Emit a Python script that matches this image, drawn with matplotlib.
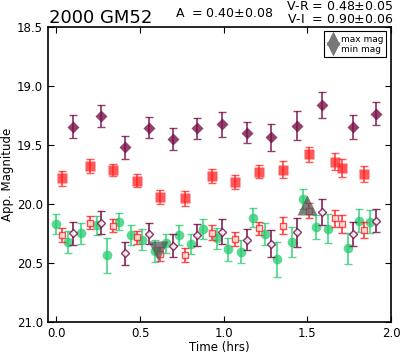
import matplotlib
matplotlib.use('Agg')
import matplotlib.pyplot as plt
from matplotlib.lines import Line2D

# I band (filled diamonds) and the same points shifted to V (open diamonds)
t_i = [0.098, 0.268, 0.413, 0.551, 0.696, 0.843, 0.992, 1.138, 1.281, 1.439, 1.589, 1.772, 1.908]
mag_i = [19.345, 19.254, 19.519, 19.353, 19.449, 19.358, 19.325, 19.398, 19.435, 19.339, 19.161, 19.350, 19.235]
err_i = [0.099, 0.095, 0.097, 0.089, 0.097, 0.090, 0.105, 0.089, 0.113, 0.123, 0.110, 0.103, 0.097]
mag_i_v = [20.248, 20.158, 20.418, 20.254, 20.353, 20.263, 20.235, 20.305, 20.336, 20.240, 20.065, 20.254, 20.142]

# R band (filled squares) and shifted to V (open squares)
t_r = [0.032, 0.204, 0.341, 0.479, 0.621, 0.766, 0.928, 1.066, 1.210, 1.357, 1.511, 1.665, 1.705, 1.838]
mag_r = [19.782, 19.678, 19.712, 19.803, 19.941, 19.952, 19.763, 19.814, 19.726, 19.709, 19.579, 19.642, 19.697, 19.744]
err_r = [0.062, 0.058, 0.055, 0.055, 0.061, 0.061, 0.061, 0.059, 0.054, 0.072, 0.065, 0.070, 0.076, 0.066]
mag_r_v = [20.263, 20.158, 20.186, 20.282, 20.424, 20.432, 20.242, 20.297, 20.206, 20.186, 20.057, 20.121, 20.172, 20.220]

# V band (green circles)
t_v = [0.0, 0.072, 0.146, 0.242, 0.305, 0.377, 0.447, 0.512, 0.588, 0.653, 0.732, 0.807, 0.874,
       0.960, 1.027, 1.103, 1.174, 1.249, 1.320, 1.407, 1.474, 1.550, 1.625, 1.741, 1.807, 1.872]
mag_v = [20.172, 20.319, 20.248, 20.182, 20.436, 20.150, 20.265, 20.301, 20.398, 20.333, 20.265, 20.339, 20.214,
         20.291, 20.384, 20.404, 20.116, 20.256, 20.470, 20.322, 19.959, 20.195, 20.208, 20.377, 20.140, 20.150]
err_v = [0.085, 0.093, 0.089, 0.080, 0.151, 0.073, 0.085, 0.085, 0.090, 0.080, 0.085, 0.085, 0.085,
         0.088, 0.099, 0.100, 0.078, 0.092, 0.151, 0.131, 0.082, 0.099, 0.123, 0.131, 0.095, 0.096]

# lightcurve extremes
t_max, mag_max = [1.495], [20.01]
t_min, mag_min = [0.605], [20.40]

xticks = [0.0, 0.5, 1.0, 1.5, 2.0]
yticks = [18.5, 19.0, 19.5, 20.0, 20.5, 21.0]

fig = plt.figure(figsize=(4, 3.55), dpi=100)
fig.patch.set_facecolor('white')
ax = fig.add_axes([0.12, 0.093, 0.8575, 0.831])

purple = '#7a1048'
red = '#ff2020'
green = '#22cc6e'

ax.errorbar(t_v, mag_v, yerr=err_v, fmt='o', ms=7, color=green, mec='none', alpha=0.75,
            ecolor=green, elinewidth=1.3, capsize=3, zorder=2)
ax.errorbar(t_r, mag_r_v, yerr=err_r, fmt='s', ms=4.5, mfc='#ffe8e8', mec=red, mew=1.0, alpha=0.8,
            ecolor=red, elinewidth=1.3, capsize=3, zorder=3)
ax.errorbar(t_i, mag_i_v, yerr=err_i, fmt='D', ms=4, mfc='white', mec=purple, mew=1.0, alpha=0.85,
            ecolor=purple, elinewidth=1.3, capsize=3, zorder=3)
ax.errorbar(t_r, mag_r, yerr=err_r, fmt='s', ms=6.5, color=red, mec='none', alpha=0.75,
            ecolor=red, elinewidth=1.3, capsize=3, zorder=3)
ax.errorbar(t_i, mag_i, yerr=err_i, fmt='D', ms=6, color=purple, mec='none', alpha=0.8,
            ecolor=purple, elinewidth=1.3, capsize=3, zorder=3)

ax.plot(t_max, mag_max, '^', ms=14, color='#555555', alpha=0.75, mec='none', zorder=5)
ax.plot(t_min, mag_min, 'v', ms=14, color='#555555', alpha=0.75, mec='none', zorder=5)

ax.set_xlim(-0.05, 2.0)
ax.set_ylim(21.0, 18.5)
ax.set_xticks(xticks)
ax.set_yticks(yticks)
ax.set_xticklabels([f'{v:.1f}' for v in xticks])
ax.set_yticklabels([f'{v:.1f}' for v in yticks])
ax.tick_params(direction='in', top=True, right=True, length=4, width=0.8, labelsize=8.5)
for s in ax.spines.values():
    s.set_linewidth(1.2)

ax.set_xlabel('Time (hrs)', fontsize=8.5, labelpad=1)
ax.set_ylabel('App. Magnitude', fontsize=8.5, labelpad=2)

handles = [Line2D([0], [0], marker='^', ls='none', ms=10, color='#777777', mec='none'),
           Line2D([0], [0], marker='v', ls='none', ms=10, color='#777777', mec='none')]
leg = ax.legend(handles, ['max mag', 'min mag'], loc='upper right', fontsize=6.5, numpoints=1,
                handlelength=1.2, handletextpad=0.3, labelspacing=0.15, borderpad=0.35,
                borderaxespad=0.5, fancybox=False, framealpha=1)
leg.get_frame().set_edgecolor('black')
leg.get_frame().set_linewidth(0.8)

fig.text(0.1225, 0.936, '2000 GM52', fontsize=13, va='baseline', ha='left')
fig.text(0.4375, 0.953, 'A  = 0.40$\\pm$0.08', fontsize=9, va='baseline', ha='left')
fig.text(0.9825, 0.972, 'V-R = 0.48$\\pm$0.05', fontsize=9, va='baseline', ha='right')
fig.text(0.9825, 0.934, 'V-I  = 0.90$\\pm$0.06', fontsize=9, va='baseline', ha='right')

fig.savefig('out.png', dpi=100)
plt.close(fig)
